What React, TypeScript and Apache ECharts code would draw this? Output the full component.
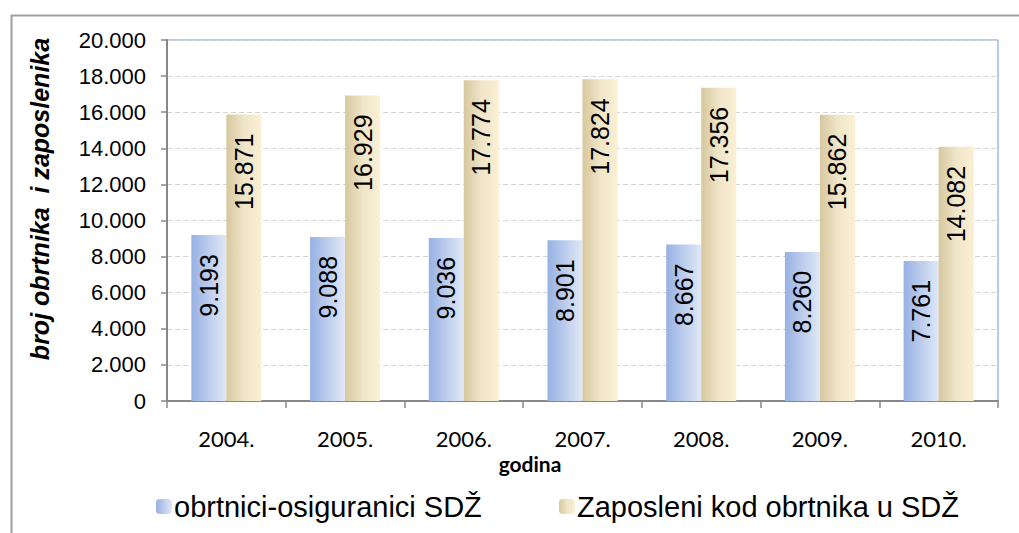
import React, { useEffect, useRef } from "react";
import * as echarts from "echarts";

const categories = ["2004.", "2005.", "2006.", "2007.", "2008.", "2009.", "2010."];
const obrtnici = [9193, 9088, 9036, 8901, 8667, 8260, 7761];
const zaposleni = [15871, 16929, 17774, 17824, 17356, 15862, 14082];
const seriesNames = ["obrtnici-osiguranici SDŽ", "Zaposleni kod obrtnika u SDŽ"];
const yTitle = "broj obrtnika  i zaposlenika";
const xTitle = "godina";

const fmt = (v: number) => {
  if (v === 0) return "0";
  const th = Math.floor(v / 1000);
  const rest = v % 1000;
  return th > 0 ? `${th}.${String(rest).padStart(3, "0")}` : String(rest);
};

const blueGrad = new echarts.graphic.LinearGradient(0, 0, 1, 0, [
  { offset: 0, color: "#97b1e4" },
  { offset: 1, color: "#e1e8f6" },
]);
const beigeGrad = new echarts.graphic.LinearGradient(0, 0, 1, 0, [
  { offset: 0, color: "#d6c79e" },
  { offset: 0.5, color: "#efe5c8" },
  { offset: 1, color: "#fcefd4" },
]);

export default function App() {
  const ref = useRef<HTMLDivElement>(null);
  useEffect(() => {
    if (!ref.current) return;
    const chart = echarts.init(ref.current, null, { renderer: "svg" });
    const labelCfg = {
      show: true,
      position: "insideTop",
      rotate: 90,
      align: "right",
      verticalAlign: "middle",
      distance: 19,
      fontSize: 25,
      fontFamily: "Liberation Sans, Arial, sans-serif",
      color: "#000",
      formatter: (p: any) => fmt(p.value),
    };
    const legendText = {
      fontSize: 29,
      fontFamily: "Liberation Sans, Arial, sans-serif",
      color: "#000",
      padding: [0, 0, 0, -3],
    };
    chart.setOption({
      animation: false,
      backgroundColor: "#fff",
      grid: {
        left: 167,
        top: 40,
        right: 21,
        bottom: 132,
        show: true,
        borderColor: "#6d99dd",
        borderWidth: 1,
        backgroundColor: "transparent",
      },
      legend: [
        {
          data: [seriesNames[0]],
          left: 151,
          top: 487,
          itemWidth: 16,
          itemHeight: 15,
          textStyle: legendText,
        },
        {
          data: [seriesNames[1]],
          left: 554,
          top: 487,
          itemWidth: 16,
          itemHeight: 15,
          textStyle: legendText,
        },
      ],
      xAxis: {
        type: "category",
        data: categories,
        axisLine: { lineStyle: { color: "#888", width: 2 } },
        axisTick: { show: true, length: 7, lineStyle: { color: "#888", width: 1.5 } },
        axisLabel: {
          margin: 26,
          fontSize: 22,
          fontFamily: "Lato, sans-serif",
          color: "#000",
        },
      },
      yAxis: {
        type: "value",
        min: 0,
        max: 20000,
        interval: 2000,
        axisLine: { show: true, lineStyle: { color: "#888", width: 2 } },
        axisTick: { show: true, length: 6, lineStyle: { color: "#888", width: 1.5 } },
        axisLabel: {
          margin: 21,
          fontSize: 22,
          fontFamily: "Liberation Sans, Arial, sans-serif",
          color: "#000",
          formatter: (v: number) => fmt(v),
        },
        splitLine: { show: true, lineStyle: { color: "#d4d4d4", type: [5, 3], width: 1 } },
      },
      series: [
        {
          name: seriesNames[0],
          type: "bar",
          data: obrtnici,
          barWidth: 35,
          barGap: "0%",
          itemStyle: { color: blueGrad },
          label: labelCfg,
        },
        {
          name: seriesNames[1],
          type: "bar",
          data: zaposleni,
          barWidth: 35,
          barGap: "0%",
          itemStyle: { color: beigeGrad },
          label: labelCfg,
        },
      ],
      graphic: [
        {
          type: "rect",
          left: 9,
          top: 13,
          shape: { x: 0, y: 0, width: 1100, height: 600 },
          style: { fill: "none", stroke: "#a0a0a0", lineWidth: 2 },
          silent: true,
        },
        {
          type: "text",
          x: 40,
          y: 199,
          rotation: Math.PI / 2,
          style: {
            text: yTitle,
            fontSize: 25,
            fontWeight: "bold",
            fontStyle: "italic",
            fontFamily: "Liberation Sans, Arial, sans-serif",
            fill: "#000",
            align: "center",
            verticalAlign: "middle",
          },
        },
        {
          type: "text",
          x: 530,
          y: 463,
          style: {
            text: xTitle,
            fontSize: 21,
            fontWeight: "bold",
            fontFamily: "Lato, sans-serif",
            fill: "#000",
            align: "center",
            verticalAlign: "middle",
          },
        },
      ],
    });
    return () => chart.dispose();
  }, []);
  return (
    <div
      ref={ref}
      style={{ position: "fixed", left: 0, top: 0, width: 1019, height: 533 }}
    />
  );
}
